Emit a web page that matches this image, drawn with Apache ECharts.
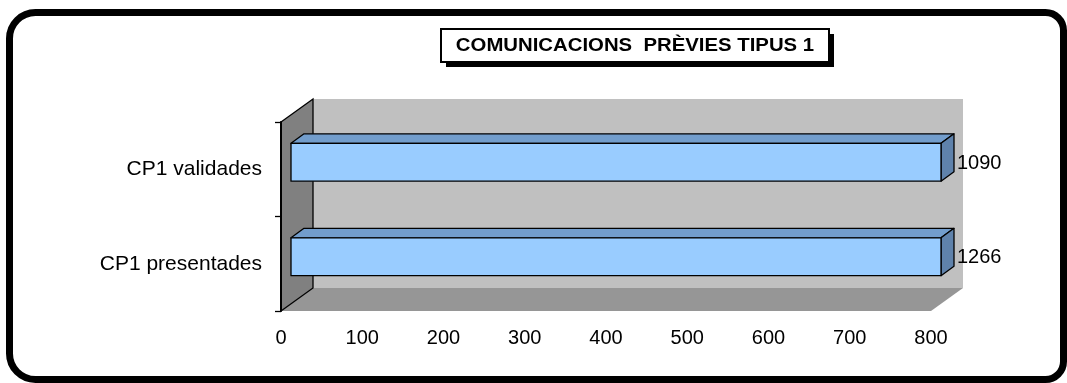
<!DOCTYPE html>
<html>
<head>
<meta charset="utf-8">
<script src="https://cdn.jsdelivr.net/npm/echarts@6/dist/echarts.min.js"></script>
<style>
  html, body { margin: 0; padding: 0; background: #ffffff; }
  #chart { width: 1067px; height: 383px; }
</style>
</head>
<body>
<div id="chart"></div>
<script>
// ---- data ----
const categories = ['CP1 presentades', 'CP1 validades'];
const values = [1266, 1090];
const axisMin = 0;
const axisMax = 800;
const axisInterval = 100;
const titleText = 'COMUNICACIONS  PRÈVIES TIPUS 1';

const FONT = '"Liberation Sans", Arial, sans-serif';

// 3D depth (pixels) of the chart box and of the bars
const WALL_DX = 32, WALL_DY = -23;
const BAR_FRONT_DX = 10, BAR_FRONT_DY = -7;
const BAR_DEPTH_DX = 13, BAR_DEPTH_DY = -9.5;

const chart = echarts.init(document.getElementById('chart'), null, { renderer: 'canvas' });

function renderWalls(params, api) {
  const cs = params.coordSys;
  const gx = cs.x, gy = cs.y, gw = cs.width, gh = cs.height;
  return {
    type: 'group',
    children: [
      { type: 'rect', shape: { x: gx + WALL_DX, y: gy + WALL_DY, width: gw, height: gh },
        style: { fill: '#c0c0c0' } },
      { type: 'polygon', shape: { points: [[gx, gy + gh], [gx + gw, gy + gh], [gx + gw + WALL_DX, gy + gh + WALL_DY], [gx + WALL_DX, gy + gh + WALL_DY]] },
        style: { fill: '#969696' } },
      { type: 'polygon', shape: { points: [[gx, gy], [gx + WALL_DX, gy + WALL_DY], [gx + WALL_DX, gy + gh + WALL_DY], [gx, gy + gh]] },
        style: { fill: '#808080', stroke: '#000', lineWidth: 1.3 } }
    ]
  };
}

function renderBar(params, api) {
  const v = api.value(0);
  const cat = api.value(1);
  const shown = Math.min(v, axisMax);
  const p0 = api.coord([axisMin, cat]);
  const p1 = api.coord([shown, cat]);
  const band = api.size([0, 1])[1];
  const h = band * 0.4;
  const x0 = p0[0] + BAR_FRONT_DX, x1 = p1[0] + BAR_FRONT_DX;
  const yc = p0[1] + BAR_FRONT_DY;
  const y0 = yc - h / 2, y1 = yc + h / 2;
  const st = { stroke: '#000', lineWidth: 1.3, lineJoin: 'round' };
  return {
    type: 'group',
    children: [
      { type: 'polygon', shape: { points: [[x0, y0], [x1, y0], [x1 + BAR_DEPTH_DX, y0 + BAR_DEPTH_DY], [x0 + BAR_DEPTH_DX, y0 + BAR_DEPTH_DY]] },
        style: Object.assign({ fill: '#729dcc' }, st) },
      { type: 'polygon', shape: { points: [[x1, y0], [x1 + BAR_DEPTH_DX, y0 + BAR_DEPTH_DY], [x1 + BAR_DEPTH_DX, y1 + BAR_DEPTH_DY], [x1, y1]] },
        style: Object.assign({ fill: '#5f82ab' }, st) },
      { type: 'rect', shape: { x: x0, y: y0, width: x1 - x0, height: h },
        style: Object.assign({ fill: '#99ccff' }, st) },
      { type: 'text', style: { text: String(v), x: x1 + 16, y: yc + 1, align: 'left', verticalAlign: 'middle',
        font: '20px ' + FONT, fill: '#000' } }
    ]
  };
}

const option = {
  backgroundColor: '#ffffff',
  animation: false,
  grid: { left: 281, top: 122, width: 650, height: 189, containLabel: false },
  xAxis: {
    type: 'value', min: axisMin, max: axisMax, interval: axisInterval,
    axisLine: { show: false }, axisTick: { show: false }, splitLine: { show: false },
    axisLabel: { color: '#000', fontSize: 20, fontFamily: FONT, margin: 17 }
  },
  yAxis: {
    type: 'category', data: categories, z: 10,
    axisLine: { show: true, lineStyle: { color: '#000', width: 2 } },
    axisTick: { show: true, length: 6, lineStyle: { color: '#000', width: 1.3 } },
    axisLabel: { color: '#000', fontSize: 21, fontFamily: FONT, margin: 19 }
  },
  series: [
    { type: 'custom', z: 1, silent: true, renderItem: renderWalls, data: [[0, 0]], clip: false },
    { type: 'custom', z: 3, renderItem: renderBar, clip: false,
      data: values.map((v, i) => [v, i]), encode: { x: 0, y: 1 } }
  ],
  graphic: [
    { type: 'rect', z: 0, shape: { x: 9.5, y: 12.5, width: 1054, height: 367, r: [26, 18, 18, 26] },
      style: { fill: 'none', stroke: '#000', lineWidth: 7 } },
    { type: 'rect', z: 20, shape: { x: 446, y: 34, width: 388, height: 33 }, style: { fill: '#000' } },
    { type: 'rect', z: 21, shape: { x: 441, y: 29, width: 388, height: 33 }, style: { fill: '#fff', stroke: '#000', lineWidth: 2 } },
    { type: 'text', z: 22, x: 635, y: 46, scaleX: 1.13,
      style: { text: titleText, align: 'center', verticalAlign: 'middle', font: 'bold 18px ' + FONT, fill: '#000' } }
  ]
};
chart.setOption(option);
</script>
</body>
</html>
